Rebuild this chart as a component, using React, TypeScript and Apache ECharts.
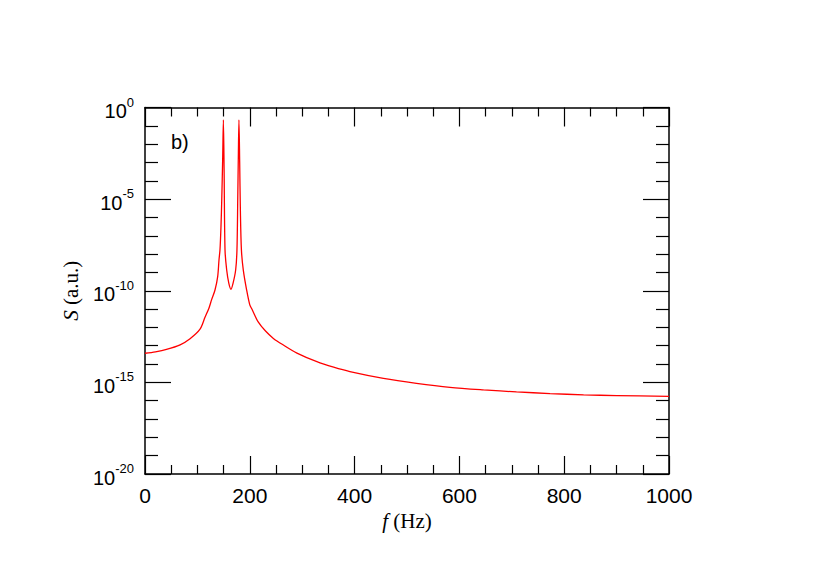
import React, { useEffect, useRef } from "react";
import * as echarts from "echarts";

// frequency (Hz) and log10 of S (a.u.)
const freqHz: number[] = [
  0, 20, 41, 67, 86, 105, 114.5, 122, 127, 133.6, 138.7, 141.2, 143.1, 145, 146.5, 148.2, 149.6,
  151, 152.7, 155.9, 160, 164.1, 168, 173, 175.5, 177, 178.2, 179.3, 180.7, 182, 184,
  187.6, 194, 200, 204, 216, 230, 245, 264, 290, 328, 360, 391, 455, 518, 582, 646, 709, 773, 837, 900, 1000,
];
const log10S: number[] = [
  -13.41, -13.33, -13.2, -12.95, -12.62, -12.1, -11.45, -10.95, -10.5, -9.96, -9.23, -8.32, -7.77, -6.5, -5.0, -2.86, -0.68,
  -3.5, -7.77, -8.87, -9.6, -9.92, -9.6, -8.87, -7.77, -5.0, -2.5, -0.68, -3.0, -5.6, -7.77,
  -8.87, -9.96, -10.77, -11.0, -11.7, -12.2, -12.6, -12.96, -13.4, -13.87, -14.17, -14.41, -14.78, -15.05, -15.27, -15.41, -15.52, -15.61, -15.68, -15.72, -15.76,
];
const xTicks = { min: 0, max: 1000, interval: 200 };
const yTicks = { min: -20, max: 0, interval: 5 };
const panelLabel = "b)";

const SANS = "'Liberation Sans', Arial, Helvetica, sans-serif";
const SERIF = "'Liberation Serif', 'Times New Roman', serif";

export default function App() {
  const ref = useRef<HTMLDivElement>(null);
  useEffect(() => {
    if (!ref.current) return;
    const chart = echarts.init(ref.current, undefined, { renderer: "svg" });
    const line = { lineStyle: { color: "#000", width: 1.5 } };
    const xBase = (pos: "bottom" | "top", major: number, minor: number, labels: boolean) => ({
      type: "value" as const,
      position: pos,
      min: xTicks.min,
      max: xTicks.max,
      interval: xTicks.interval,
      axisLine: { show: true, onZero: false, ...line },
      axisTick: { show: true, inside: true, length: major, lineStyle: { color: "#000", width: 1.2 } },
      minorTick: { show: true, splitNumber: 4, length: minor, lineStyle: { color: "#000", width: 1.2 } },
      splitLine: { show: false },
      axisLabel: {
        show: labels,
        color: "#000",
        fontSize: 21,
        fontFamily: SANS,
        margin: 11,
        formatter: (v: number) => String(v),
      },
    });
    const yBase = (pos: "left" | "right", labels: boolean) => ({
      type: "value" as const,
      position: pos,
      min: yTicks.min,
      max: yTicks.max,
      interval: yTicks.interval,
      axisLine: { show: true, onZero: false, ...line },
      axisTick: { show: true, inside: true, length: 26, lineStyle: { color: "#000", width: 1.2 } },
      minorTick: { show: true, splitNumber: 5, length: 13, lineStyle: { color: "#000", width: 1.2 } },
      splitLine: { show: false },
      axisLabel: {
        show: labels,
        margin: 11,
        formatter: (v: number) => `{b|10}{s|${v}}`,
        rich: {
          b: { fontSize: 20, fontFamily: SANS, color: "#000", lineHeight: 24, padding: [7, 0, 0, 0] },
          s: { fontSize: 13, fontFamily: SANS, color: "#000", lineHeight: 13, verticalAlign: "top" },
        },
      },
    });
    chart.setOption({
      animation: false,
      backgroundColor: "#fff",
      grid: { left: 145, right: 145, top: 107.5, bottom: 108, containLabel: false },
      xAxis: [
        {
          ...xBase("bottom", 18, 9, true),
          name: "{i|f}{r|\u00a0(Hz)}",
          nameLocation: "middle",
          nameGap: 36,
          nameTextStyle: {
            rich: {
              i: { fontSize: 21, fontFamily: SERIF, fontStyle: "italic", color: "#000" },
              r: { fontSize: 21, fontFamily: SERIF, color: "#000" },
            },
          },
        },
        xBase("top", 19, 9, false),
      ],
      yAxis: [
        {
          ...yBase("left", true),
          name: "{i|S}{r|\u00a0(a.u.)}",
          nameLocation: "middle",
          nameGap: 64,
          nameTextStyle: {
            rich: {
              i: { fontSize: 21, fontFamily: SERIF, fontStyle: "italic", color: "#000" },
              r: { fontSize: 21, fontFamily: SERIF, color: "#000" },
            },
          },
        },
        yBase("right", false),
      ],
      graphic: [
        {
          type: "text",
          left: 171,
          top: 132,
          style: { text: panelLabel, fontSize: 20, fontFamily: SANS, fill: "#000" },
        },
      ],
      series: [
        {
          type: "line",
          xAxisIndex: 0,
          yAxisIndex: 0,
          data: freqHz.map((f, i) => [f, log10S[i]]),
          showSymbol: false,
          symbol: "none",
          smooth: 0.3,
          lineStyle: { color: "#ff0000", width: 1.3 },
          clip: true,
        },
      ],
    });
    return () => chart.dispose();
  }, []);
  return (
    <div
      ref={ref}
      style={{ position: "absolute", left: 0, top: 0, width: 814, height: 582, background: "#fff" }}
    />
  );
}
